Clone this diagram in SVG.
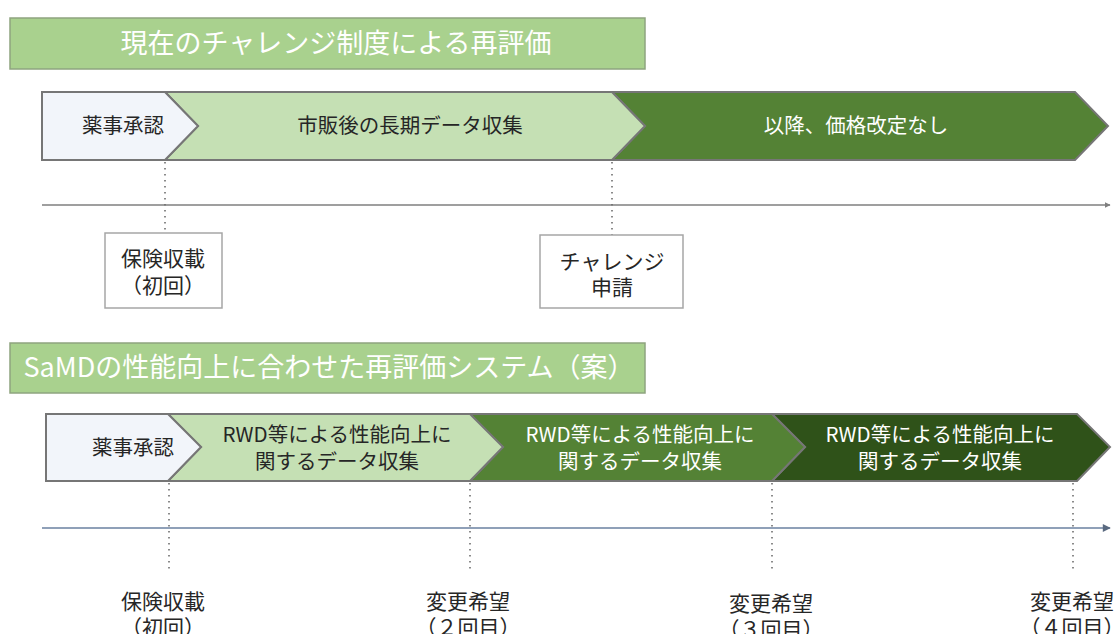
<svg xmlns="http://www.w3.org/2000/svg" width="1116" height="634" viewBox="0 0 1116 634">
<defs>
<style>
text{font-family:"Noto Sans CJK JP","Noto Sans",sans-serif;text-anchor:middle}
.title{fill:#A9D18E;stroke:#8EA47F;stroke-width:1.5}
.ttl{fill:#FFFFFF;font-size:27px}
.seg{stroke:#767676;stroke-width:2;stroke-linejoin:miter}
.s0{fill:#F2F5FA}
.s1{fill:#C5E0B4}
.s2{fill:#548235}
.s3{fill:#2F5219}
.dk{fill:#262626;font-size:20.5px}
.wt{fill:#FFFFFF;font-size:20.5px}
.lb{fill:#262626;font-size:21px}
.dot{stroke:#6E6E6E;stroke-width:1.6;stroke-dasharray:1.5 4.5;fill:none}
.box{fill:#FFFFFF;stroke:#A6A6A6;stroke-width:1.5}
</style>
<marker id="ah1" viewBox="0 0 10 10" refX="9" refY="5" markerWidth="6" markerHeight="6" orient="auto" markerUnits="userSpaceOnUse"><path d="M0,0 L10,5 L0,10 z" fill="#7F7F7F"/></marker>
<marker id="ah2" viewBox="0 0 10 10" refX="9" refY="5" markerWidth="9" markerHeight="8" orient="auto" markerUnits="userSpaceOnUse"><path d="M0,0 L10,5 L0,10 z" fill="#5A6A80"/></marker>
</defs>

<g id="title1">
<rect class="title" x="10" y="18" width="635" height="51"/>
<text class="ttl" x="336" y="53">現在のチャレンジ制度による再評価</text>
</g>

<g id="connectors">
<line x1="42" y1="205" x2="1110" y2="205" stroke="#7F7F7F" stroke-width="1.5" marker-end="url(#ah1)"/>
<line class="dot" x1="165" y1="162" x2="165" y2="234"/>
<line class="dot" x1="612" y1="162" x2="612" y2="236"/>
<line x1="42" y1="528" x2="1110" y2="528" stroke="#8FA0B8" stroke-width="2" marker-end="url(#ah2)"/>
<line class="dot" x1="169" y1="483" x2="169" y2="572"/>
<line class="dot" x1="470" y1="483" x2="470" y2="572"/>
<line class="dot" x1="772" y1="483" x2="772" y2="572"/>
<line class="dot" x1="1073" y1="483" x2="1073" y2="572"/>
</g>

<g id="bar1-seg3">
<polygon class="seg s2" points="612,92 1075,92 1108,126 1075,160 612,160 645,126"/>
<text class="wt" x="856" y="133">以降、価格改定なし</text>
</g>
<g id="bar1-seg2">
<polygon class="seg s1" points="165,92 612,92 645,126 612,160 165,160 198,126"/>
<text class="dk" x="410" y="133">市販後の長期データ収集</text>
</g>
<g id="bar1-seg1">
<polygon class="seg s0" points="42,92 165,92 198,126 165,160 42,160"/>
<text class="dk" x="123" y="133">薬事承認</text>
</g>

<g id="box-hoken1">
<rect class="box" x="105" y="233" width="117" height="75"/>
<text class="lb" x="163" y="266">保険収載</text>
<text class="lb" x="163" y="293">（初回）</text>
</g>
<g id="box-challenge">
<rect class="box" x="540" y="235" width="143" height="73"/>
<text class="lb" x="612" y="269">チャレンジ</text>
<text class="lb" x="612" y="295">申請</text>
</g>

<g id="title2">
<rect class="title" x="10" y="343" width="635" height="50"/>
<text class="ttl" x="329" y="377">SaMDの性能向上に合わせた再評価システム（案）</text>
</g>

<g id="bar2-seg4">
<polygon class="seg s3" points="772,414 1077,414 1110,447 1077,481 772,481 805,447"/>
<text class="wt" x="940" y="442">RWD等による性能向上に</text>
<text class="wt" x="940" y="469">関するデータ収集</text>
</g>
<g id="bar2-seg3">
<polygon class="seg s2" points="470,414 772,414 805,447 772,481 470,481 503,447"/>
<text class="wt" x="640" y="442">RWD等による性能向上に</text>
<text class="wt" x="640" y="469">関するデータ収集</text>
</g>
<g id="bar2-seg2">
<polygon class="seg s1" points="168,414 470,414 503,447 470,481 168,481 201,447"/>
<text class="dk" x="337" y="442">RWD等による性能向上に</text>
<text class="dk" x="337" y="469">関するデータ収集</text>
</g>
<g id="bar2-seg1">
<polygon class="seg s0" points="46,414 168,414 201,447 168,481 46,481"/>
<text class="dk" x="133" y="455">薬事承認</text>
</g>

<g id="label-hoken2">
<text class="lb" x="163" y="609">保険収載</text>
<text class="lb" x="163" y="635">（初回）</text>
</g>
<g id="label-change2">
<text class="lb" x="468" y="609">変更希望</text>
<text class="lb" x="468" y="635">（２回目）</text>
</g>
<g id="label-change3">
<text class="lb" x="771" y="611">変更希望</text>
<text class="lb" x="771" y="637">（３回目）</text>
</g>
<g id="label-change4">
<text class="lb" x="1072" y="609">変更希望</text>
<text class="lb" x="1072" y="635">（４回目）</text>
</g>
</svg>
